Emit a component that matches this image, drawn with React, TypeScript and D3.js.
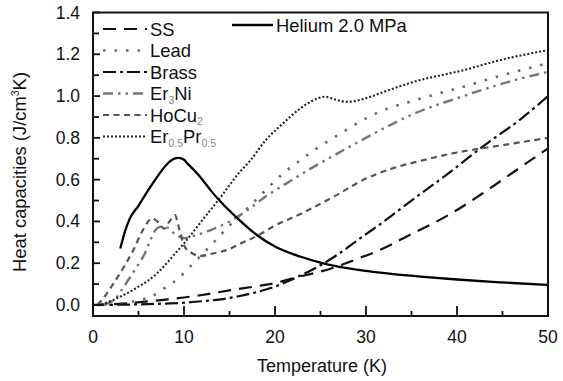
import React from 'react'
import * as d3 from 'd3'

// heat capacity data, [T (K), C (J/cm3K)]
const helium = [[3,0.27],[3.5,0.35],[4,0.41],[5,0.475],[6,0.545],[7,0.61],[8,0.668],[8.7,0.695],[9.3,0.704],[9.9,0.698],[10.5,0.672],[11.8,0.612],[13,0.545],[14,0.495],[16,0.41],[18,0.335],[20,0.28],[22.75,0.232],[25,0.203],[26.8,0.185],[30,0.163],[33,0.148],[36,0.136],[40,0.122],[45,0.108],[50,0.096]]
const ss = [[0,0],[2,0.003],[4,0.009],[6,0.017],[8,0.026],[10,0.036],[12,0.048],[15,0.07],[18,0.09],[20,0.105],[22.4,0.133],[25,0.16],[27,0.187],[29,0.22],[31.5,0.263],[35,0.34],[38,0.405],[40,0.455],[43,0.54],[46.5,0.645],[50,0.75]]
const brass = [[0,0],[2,0.001],[5,0.003],[8,0.007],[10,0.011],[12,0.018],[14,0.027],[16,0.042],[18,0.062],[20,0.088],[22.4,0.133],[25,0.19],[27,0.245],[29.7,0.33],[31.5,0.385],[35,0.5],[38.5,0.612],[43.5,0.78],[47,0.89],[50,1.0]]
const lead = [[0.5,0],[2,0.002],[3,0.006],[4,0.013],[5,0.022],[6.6,0.045],[8.1,0.088],[9.4,0.128],[10.5,0.176],[12.5,0.265],[13.6,0.315],[15,0.38],[17.6,0.49],[19.8,0.585],[20.9,0.63],[22.7,0.69],[24.6,0.75],[27,0.815],[30,0.893],[31.5,0.925],[35,0.975],[40.7,1.045],[45,1.1],[50,1.157]]
const er3ni = [[1.2,0],[2,0.015],[2.56,0.035],[3.2,0.075],[4,0.128],[5,0.195],[5.7,0.247],[6.3,0.31],[6.8,0.355],[7.5,0.375],[8.2,0.37],[9,0.34],[10,0.32],[11,0.33],[13,0.36],[15,0.40],[17,0.455],[19,0.52],[21,0.575],[24.2,0.66],[27.9,0.75],[30,0.80],[31.5,0.835],[35,0.91],[40.7,1.0],[45,1.06],[50,1.116]]
const hocu2 = [[0.5,0],[1.1,0.03],[2.5,0.12],[3.5,0.19],[4.4,0.26],[5.5,0.36],[6.5,0.415],[7.2,0.395],[7.8,0.365],[8.4,0.40],[9.0,0.43],[9.5,0.36],[10,0.285],[10.8,0.25],[11.8,0.235],[13,0.245],[15,0.268],[16,0.29],[18,0.33],[20,0.38],[23,0.44],[26.5,0.52],[30,0.605],[33,0.655],[36,0.69],[40,0.73],[45,0.765],[50,0.80]]
const erpr = [[0.5,0],[1,0.004],[2,0.02],[3,0.04],[4,0.062],[5,0.088],[6,0.115],[7,0.15],[8,0.195],[9,0.245],[10,0.295],[12,0.405],[14,0.515],[16,0.63],[17.25,0.69],[19,0.79],[20.9,0.87],[22.75,0.94],[24,0.975],[25.5,0.997],[26.5,0.985],[27.9,0.973],[29,0.978],[30,0.99],[32.6,1.03],[35,1.065],[40.7,1.124],[45,1.175],[50,1.22]]

const xTicks = [0, 10, 20, 30, 40, 50]
const xMinor = [5, 15, 25, 35, 45]
const yTicks = [0, 0.2, 0.4, 0.6, 0.8, 1.0, 1.2, 1.4]
const yMinor = [0.1, 0.3, 0.5, 0.7, 0.9, 1.1, 1.3]

const font = "'Liberation Sans', Arial, sans-serif"

// legend entries: name, sub-parts, style
const series = [
  { key: 'SS', data: ss, label: [['SS', false]], color: '#111', dash: '13,8', w: 2.2 },
  { key: 'Lead', data: lead, label: [['Lead', false]], color: '#6a6a6a', dash: '2.5,9', w: 2.6 },
  { key: 'Brass', data: brass, label: [['Brass', false]], color: '#111', dash: '13,4,3,4', w: 2.2 },
  { key: 'Er3Ni', data: er3ni, label: [['Er', false], ['3', true], ['Ni', false]], color: '#777', dash: '10,5,2.5,5,2.5,5', w: 2.4 },
  { key: 'HoCu2', data: hocu2, label: [['HoCu', false], ['2', true]], color: '#555', dash: '6,4.5', w: 2.2 },
  { key: 'ErPr', data: erpr, label: [['Er', false], ['0.5', true], ['Pr', false], ['0.5', true]], color: '#222', dash: '2,2', w: 2.1 },
]

export default function App() {
  const W = 563, H = 381
  const x = d3.scaleLinear().domain([0, 50]).range([93, 548])
  const y = d3.scaleLinear().domain([0, 1.4]).range([305, 12.5])
  const bottom = 316

  const line = d3.line<number[]>()
    .x(d => x(d[0]))
    .y(d => y(d[1]))
    .curve(d3.curveMonotoneX)

  const legY = (i: number) => 29 + i * 21.5

  return (
    <svg width={W} height={H} style={{ position: 'absolute', left: 0, top: 0, background: '#fff' }} fontFamily={font}>
      <defs>
        <clipPath id="plot">
          <rect x={93} y={12.5} width={455} height={bottom - 12.5} />
        </clipPath>
      </defs>

      <g clipPath="url(#plot)">
        {series.map(s => (
          <path key={s.key} d={line(s.data as any) || ''} fill="none" stroke={s.color}
            strokeWidth={s.w} strokeDasharray={s.dash} />
        ))}
        <path d={line(helium as any) || ''} fill="none" stroke="#000" strokeWidth={2.3} />
      </g>

      {/* frame */}
      <rect x={93} y={12.5} width={455} height={bottom - 12.5} fill="none" stroke="#111" strokeWidth={2} />

      {/* x ticks */}
      {xTicks.map(t => (
        <g key={'xt' + t}>
          <line x1={x(t)} x2={x(t)} y1={bottom} y2={bottom - 10} stroke="#111" strokeWidth={1.8} />
          <text x={x(t)} y={343} fontSize={17.5} textAnchor="middle" fill="#111">{t}</text>
        </g>
      ))}
      {xMinor.map(t => (
        <line key={'xm' + t} x1={x(t)} x2={x(t)} y1={bottom} y2={bottom - 5} stroke="#111" strokeWidth={1.8} />
      ))}

      {/* y ticks */}
      {yTicks.map(t => (
        <g key={'yt' + t}>
          <line x1={93} x2={100} y1={y(t)} y2={y(t)} stroke="#111" strokeWidth={1.8} />
          <text x={80} y={y(t) + 6} fontSize={17.5} textAnchor="end" fill="#111">{d3.format('.1f')(t)}</text>
        </g>
      ))}
      {yMinor.map(t => (
        <line key={'ym' + t} x1={93} x2={99} y1={y(t)} y2={y(t)} stroke="#111" strokeWidth={1.8} />
      ))}

      {/* axis titles */}
      <text x={322} y={372} fontSize={18} textAnchor="middle" fill="#111">Temperature (K)</text>
      <text transform="translate(26,172) rotate(-90)" fontSize={18.4} textAnchor="middle" fill="#111">
        Heat capacities (J/cm<tspan fontSize={10.5} dy={-7}>3</tspan><tspan dy={7}>K)</tspan>
      </text>

      {/* legend */}
      {series.map((s, i) => (
        <g key={'lg' + s.key}>
          <line x1={103} x2={147} y1={legY(i)} y2={legY(i)} stroke={s.color} strokeWidth={s.w} strokeDasharray={s.dash} />
          <text x={150} y={legY(i) + 6.5} fontSize={18.4} fill="#111">
            {s.label.map(([txt, sub], j) => sub
              ? <tspan key={j} fontSize={10.5} fill="#888" dy={3.5}>{txt}</tspan>
              : <tspan key={j} dy={j > 0 && s.label[j - 1][1] ? -3.5 : 0}>{txt}</tspan>)}
          </text>
        </g>
      ))}
      <line x1={232} x2={273} y1={25} y2={25} stroke="#000" strokeWidth={2.3} />
      <text x={276} y={32} fontSize={18.4} fill="#111">Helium 2.0 MPa</text>
    </svg>
  )
}
